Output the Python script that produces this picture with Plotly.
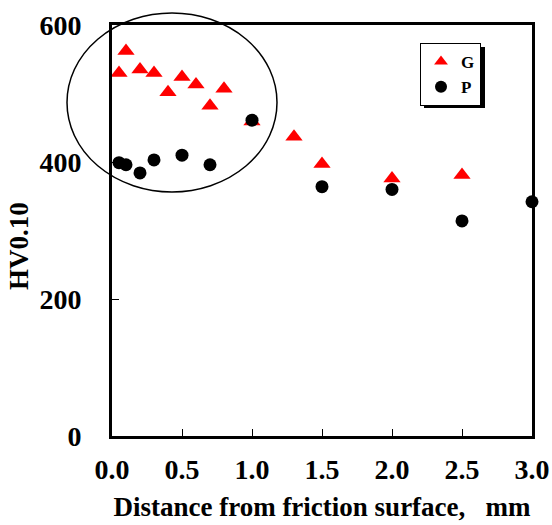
import plotly.graph_objects as go

# Data
g_x = [0.05, 0.1, 0.2, 0.3, 0.4, 0.5, 0.6, 0.7, 0.8, 1.0, 1.3, 1.5, 2.0, 2.5]
g_y = [530, 562, 535, 530, 502, 524, 513, 482, 507, 459, 437, 397, 376, 381]
p_x = [0.05, 0.1, 0.2, 0.3, 0.5, 0.7, 1.0, 1.5, 2.0, 2.5, 3.0]
p_y = [399, 396, 384, 403, 410, 396, 461, 364, 360, 314, 342]

x_ticks = [0.0, 0.5, 1.0, 1.5, 2.0, 2.5, 3.0]
x_tick_labels = ["0.0", "0.5", "1.0", "1.5", "2.0", "2.5", "3.0"]
y_ticks = [0, 200, 400, 600]

FONT = "Liberation Serif"
L, R, T, B = 112, 20, 25, 89
W, H = 552, 525
PW, PH = W - L - R, H - T - B


def px(xpix):
    return (xpix - L) / PW


def py(ypix):
    return (H - B - ypix) / PH


fig = go.Figure()
fig.add_trace(go.Scatter(
    x=g_x, y=g_y, mode="markers", name="G",
    marker=dict(symbol="triangle-up", size=15, color="#ff0000"),
    cliponaxis=False,
))
fig.add_trace(go.Scatter(
    x=p_x, y=p_y, mode="markers", name="P",
    marker=dict(symbol="circle", size=13, color="#000000"),
    cliponaxis=False,
))

axis_common = dict(
    showgrid=False, zeroline=False, showline=True, linecolor="black",
    linewidth=3, mirror=True, ticks="inside", tickcolor="black",
    tickwidth=1, ticklen=7, automargin=False,
    tickfont=dict(family=FONT, size=28, color="black", weight="bold"),
)

fig.update_layout(
    width=W, height=H,
    margin=dict(l=L, r=R, t=T, b=B, autoexpand=False),
    paper_bgcolor="white", plot_bgcolor="white",
    showlegend=True,
    legend=dict(
        x=px(420), y=py(43), xanchor="left", yanchor="top",
        bgcolor="white", bordercolor="black", borderwidth=1,
        font=dict(family=FONT, size=17, color="black", weight="bold"),
        itemsizing="constant", tracegroupgap=0, itemwidth=30,
    ),
    xaxis=dict(
        range=[0, 3.0], tickvals=x_ticks, ticktext=x_tick_labels,
        ticklabelstandoff=6,
        title=dict(text="Distance from friction surface,   mm",
                   font=dict(family=FONT, size=27, color="black", weight="bold"),
                   standoff=14),
        **axis_common,
    ),
    yaxis=dict(
        range=[0, 600], tickvals=y_ticks,
        ticklabelstandoff=22,
        **axis_common,
    ),
    annotations=[
        dict(text="HV0.10", xref="paper", yref="paper",
             x=px(19), y=py(246), xanchor="center", yanchor="middle",
             textangle=-90, showarrow=False,
             font=dict(family=FONT, size=27, color="black", weight="bold")),
    ],
    shapes=[
        # legend shadow (drawn under the legend, which sits in the info layer)
        dict(type="rect", xref="paper", yref="paper",
             x0=px(424), x1=px(485), y0=py(108), y1=py(47),
             fillcolor="black", line=dict(width=0), layer="above"),
        # highlight ellipse
        dict(type="circle", xref="paper", yref="paper",
             x0=px(67), x1=px(277), y0=py(192), y1=py(13),
             line=dict(color="black", width=1.5), layer="above"),
    ],
)

fig.write_html("out.html", config={"displayModeBar": False},
               post_script="document.body.style.margin='0';document.body.style.overflow='hidden';")
